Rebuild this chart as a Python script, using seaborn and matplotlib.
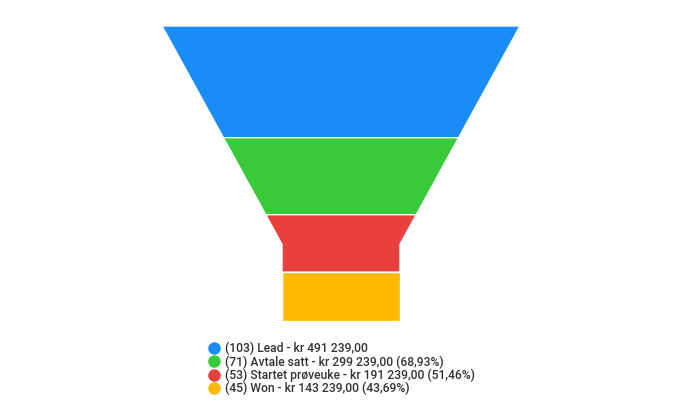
import seaborn as sns
import matplotlib.pyplot as plt
from matplotlib.lines import Line2D

# Data
stages = ['Lead', 'Avtale satt', 'Startet prøveuke', 'Won']
counts = [103, 71, 53, 45]
amounts = ['kr 491 239,00', 'kr 299 239,00', 'kr 191 239,00', 'kr 143 239,00']
percents = ['', '(68,93%)', '(51,46%)', '(43,69%)']
colors = ['#1a8cf6', '#38ca38', '#e83f3f', '#ffba00']

sns.set_theme(style='white')
plt.rcParams['font.family'] = ['Roboto', 'DejaVu Sans']

fig = plt.figure(figsize=(6.97, 4.2), dpi=100)
ax = fig.add_axes([0, 0, 1, 1])
ax.set_xlim(0, 697)
ax.set_ylim(420, 0)
ax.axis('off')

# funnel layout (Highcharts-like: cone + neck)
cx, top, bottom = 341, 26, 321
width, neck_width = 358, 118
neck_y = bottom - 0.26 * (bottom - top)


def half_width(y):
    if y >= neck_y:
        return neck_width / 2
    return (width - (width - neck_width) * (y - top) / (neck_y - top)) / 2


total = sum(counts)
y0 = top
for c, col in zip(counts, colors):
    y1 = y0 + c / total * (bottom - top)
    ys = [y0, y1] if not (y0 < neck_y < y1) else [y0, neck_y, y1]
    left = [(cx - half_width(y), y) for y in ys]
    right = [(cx + half_width(y), y) for y in reversed(ys)]
    pts = left + right
    ax.fill([p[0] for p in pts], [p[1] for p in pts], color=col,
            edgecolor='white', linewidth=1)
    y0 = y1

# legend
labels = []
for s, c, a, p in zip(stages, counts, amounts, percents):
    lab = f'({c}) {s} - {a}'
    if p:
        lab += f' {p}'
    labels.append(lab)
handles = [Line2D([], [], marker='o', linestyle='', markersize=8,
                  markerfacecolor=col, markeredgecolor=col) for col in colors]
ax.legend(handles, labels, loc='upper left', bbox_to_anchor=(201 / 697, 1 - 336 / 420),
          frameon=False, borderpad=0, handletextpad=0.25, handlelength=1.2,
          labelspacing=0.0, prop={'size': 8.7, 'weight': 'medium'},
          labelcolor='#333333')

fig.savefig('out.png', dpi=100)
